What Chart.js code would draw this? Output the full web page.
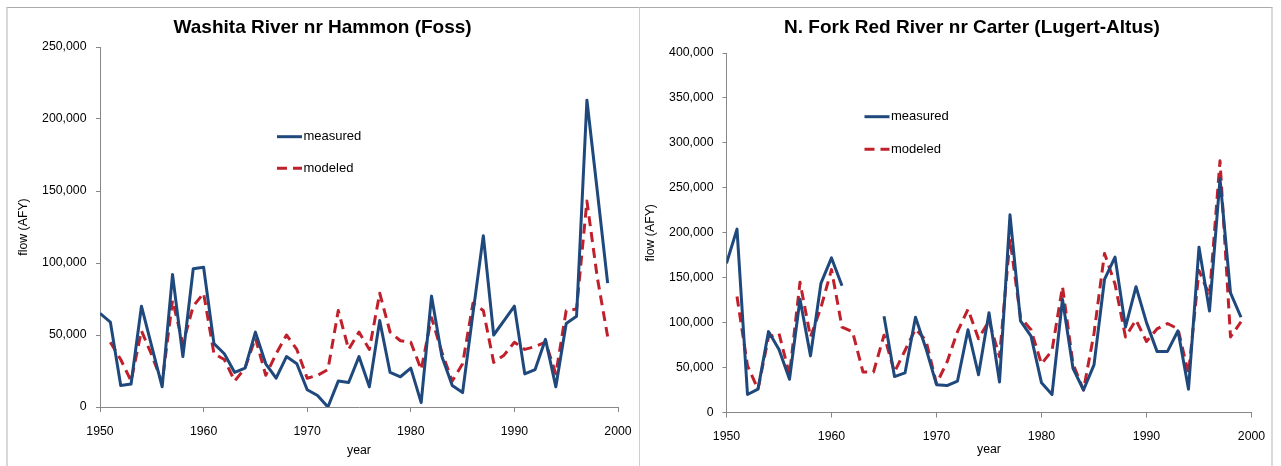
<!DOCTYPE html>
<html>
<head>
<meta charset="utf-8">
<title>Measured vs modeled annual flow</title>
<script src="https://cdn.jsdelivr.net/npm/chart.js@4.4.1/dist/chart.umd.min.js"></script>
<style>
  html, body { margin: 0; padding: 0; background: #fff; overflow: hidden; width: 1281px; height: 466px; }
  #stage { position: relative; width: 1281px; height: 466px; overflow: hidden; }
  .panel { position: absolute; top: 7px; height: 470px; box-sizing: border-box; background: #fff; }
  #panelA { left: 6px; width: 634px; border-top: 1px solid #ababab; border-left: 2px solid #d9d9d9; border-right: 1px solid #cfcfcf; }
  #panelB { left: 640px; width: 633px; border-top: 1px solid #ababab; border-right: 2px solid #d9d9d9; }
  canvas { position: absolute; top: 0; }
  #washita { left: 0; }
  #northFork { left: 640px; }
</style>
</head>
<body>
<div id="stage">
  <div class="panel" id="panelA"></div>
  <div class="panel" id="panelB"></div>
  <canvas id="washita" width="639" height="466"></canvas>
  <canvas id="northFork" width="680" height="466"></canvas>
</div>
<script>
// Water years shared by both gauges
const years = [
  1950, 1951, 1952, 1953, 1954, 1955, 1956, 1957, 1958, 1959,
  1960, 1961, 1962, 1963, 1964, 1965, 1966, 1967, 1968, 1969,
  1970, 1971, 1972, 1973, 1974, 1975, 1976, 1977, 1978, 1979,
  1980, 1981, 1982, 1983, 1984, 1985, 1986, 1987, 1988, 1989,
  1990, 1991, 1992, 1993, 1994, 1995, 1996, 1997, 1998, 1999
];

// Washita River nr Hammon (Foss), annual flow in AFY
const washitaMeasured = [
  65000, 59000, 15000, 16000, 70000, 42000, 14000, 92000, 35000, 96000,
  97000, 44000, 37000, 24000, 27000, 52000, 30000, 20000, 35000, 30000,
  12000, 8000, 0, 18000, 17000, 35000, 14000, 60000, 24000, 21000,
  27000, 3000, 77000, 35000, 15000, 10000, 65000, 119000, 50000, 60000,
  70000, 23000, 26000, 47000, 14000, 58000, 63000, 213000, 150000, 86000
];
const washitaModeled = [
  null, 45000, 33000, 18000, 53000, 36000, 17000, 74000, 44000, 70000,
  79000, 37000, 33000, 18000, 27000, 48000, 22000, 37000, 50000, 40000,
  20000, 22000, 26000, 67000, 40000, 52000, 40000, 79000, 52000, 46000,
  45000, 26000, 62000, 38000, 18000, 30000, 72000, 67000, 31000, 36000,
  45000, 40000, 42000, 45000, 23000, 67000, 68000, 143000, 90000, 49000
];

// N. Fork Red River nr Carter (Lugert-Altus), annual flow in AFY
const northForkMeasured = [
  166000, 204000, 20000, 26000, 90000, 70000, 37000, 126000, 63000, 144000,
  172000, 141000, null, null, null, 107000, 40000, 44000, 106000, 71000,
  31000, 30000, 35000, 92000, 42000, 111000, 34000, 220000, 102000, 85000,
  33000, 20000, 126000, 49000, 25000, 53000, 148000, 173000, 95000, 140000,
  100000, 68000, 68000, 91000, 26000, 184000, 113000, 260000, 133000, 106000
];
const northForkModeled = [
  null, 129000, 52000, 26000, 84000, 88000, 42000, 145000, 84000, 117000,
  159000, 95000, 90000, 45000, 45000, 86000, 45000, 69000, 93000, 80000,
  32000, 56000, 90000, 115000, 82000, 102000, 62000, 193000, 106000, 92000,
  54000, 69000, 140000, 54000, 25000, 88000, 177000, 143000, 84000, 103000,
  79000, 93000, 99000, 93000, 43000, 158000, 130000, 280000, 84000, 101000
];

// Axis tick values
const yearTicks = [1950, 1960, 1970, 1980, 1990, 2000];
const washitaFlowTicks = [0, 50000, 100000, 150000, 200000, 250000];
const northForkFlowTicks = [0, 50000, 100000, 150000, 200000, 250000, 300000, 350000, 400000];

const BLUE = '#1f497d';
const RED = '#c0202b';
const AXIS = '#878787';
const FONT = '"Liberation Sans", Arial, sans-serif';

Chart.defaults.font.family = FONT;
Chart.defaults.color = '#000';

function toPoints(values) {
  return years.map((yr, i) => ({ x: yr, y: values[i] }));
}

// Legend drawn inside the plot area, one row per dataset
const inlineLegend = {
  id: 'inlineLegend',
  afterDraw(chart, args, opts) {
    const ctx = chart.ctx;
    ctx.save();
    chart.data.datasets.forEach((ds, i) => {
      const y = opts.y + i * opts.rowGap;
      ctx.beginPath();
      ctx.lineWidth = ds.borderWidth;
      ctx.strokeStyle = ds.borderColor;
      ctx.setLineDash(ds.borderDash || []);
      ctx.moveTo(opts.x, y);
      ctx.lineTo(opts.x + opts.lineLength, y);
      ctx.stroke();
      ctx.setLineDash([]);
      ctx.fillStyle = '#000';
      ctx.font = opts.font;
      ctx.textAlign = 'left';
      ctx.textBaseline = 'middle';
      ctx.fillText(ds.label, opts.x + opts.lineLength + opts.textGap, y);
    });
    ctx.restore();
  }
};

function makeChart(canvasId, cfg) {
  return new Chart(document.getElementById(canvasId), {
    type: 'line',
    data: {
      datasets: [
        {
          label: 'measured',
          data: toPoints(cfg.measured),
          borderColor: BLUE,
          backgroundColor: BLUE,
          borderWidth: 3,
          pointRadius: 0,
          tension: 0,
          spanGaps: false,
          borderJoinStyle: 'round'
        },
        {
          label: 'modeled',
          data: toPoints(cfg.modeled),
          borderColor: RED,
          backgroundColor: RED,
          borderWidth: 3,
          borderDash: [10, 6],
          pointRadius: 0,
          tension: 0,
          spanGaps: false,
          borderJoinStyle: 'round'
        }
      ]
    },
    options: {
      responsive: false,
      animation: false,
      devicePixelRatio: 1,
      events: [],
      layout: { padding: cfg.padding },
      plugins: {
        legend: { display: false },
        tooltip: { enabled: false },
        title: {
          display: true,
          text: cfg.title,
          color: '#000',
          font: { size: 19, weight: 'bold' },
          padding: cfg.titlePadding
        },
        inlineLegend: cfg.legend
      },
      scales: {
        x: {
          type: 'linear',
          min: 1950,
          max: 2000,
          afterBuildTicks: s => { s.ticks = yearTicks.map(v => ({ value: v })); },
          afterFit: s => { s.height = cfg.xHeight; s.paddingLeft = 0; s.paddingRight = cfg.xRightGap; },
          ticks: { callback: v => String(v), padding: cfg.xTickPad, font: { size: 12.3 }, maxRotation: 0, autoSkip: false },
          grid: { drawOnChartArea: false, drawTicks: true, tickLength: 5, color: AXIS },
          border: { color: AXIS, width: 1 },
          title: { display: true, text: 'year', font: { size: 12.3 }, padding: { top: 0, bottom: cfg.xTitlePad } }
        },
        y: {
          type: 'linear',
          min: 0,
          max: cfg.flowTicks[cfg.flowTicks.length - 1],
          afterBuildTicks: s => { s.ticks = cfg.flowTicks.map(v => ({ value: v })); },
          afterFit: s => { s.width = cfg.yWidth; s.paddingTop = 0; s.paddingBottom = 0; },
          ticks: { callback: v => v.toLocaleString('en-US'), padding: cfg.yTickPad, font: { size: 12.3 } },
          grid: { drawOnChartArea: false, drawTicks: true, tickLength: 4, color: AXIS },
          border: { color: AXIS, width: 1 },
          title: { display: true, text: 'flow (AFY)', font: { size: 12.3 }, padding: { top: 0, bottom: 0 } }
        }
      }
    },
    plugins: [inlineLegend]
  });
}

makeChart('washita', {
  title: 'Washita River nr Hammon (Foss)',
  measured: washitaMeasured,
  modeled: washitaModeled,
  flowTicks: washitaFlowTicks,
  padding: { left: 15.9, right: 9.7, top: 0, bottom: 0 },
  titlePadding: { top: 16.6, bottom: 7.6 },
  yWidth: 84.1,
  yTickPad: 9.5,
  xHeight: 59,
  xRightGap: 21,
  xTickPad: 12.3,
  xTitlePad: 8.3,
  legend: { x: 277, y: 136.7, rowGap: 31.6, lineLength: 25, textGap: 1.5, font: '13px ' + FONT }
});

makeChart('northFork', {
  title: 'N. Fork Red River nr Carter (Lugert-Altus)',
  measured: northForkMeasured,
  modeled: northForkModeled,
  flowTicks: northForkFlowTicks,
  padding: { left: 3.2, right: 19.2, top: 0, bottom: 0 },
  titlePadding: { top: 16.6, bottom: 13.6 },
  yWidth: 83.3,
  yTickPad: 9,
  xHeight: 53.5,
  xRightGap: 68.5,
  xTickPad: 11.8,
  xTitlePad: 8.6,
  legend: { x: 224.5, y: 116.7, rowGap: 32.6, lineLength: 25, textGap: 1.5, font: '13px ' + FONT }
});
</script>
</body>
</html>
